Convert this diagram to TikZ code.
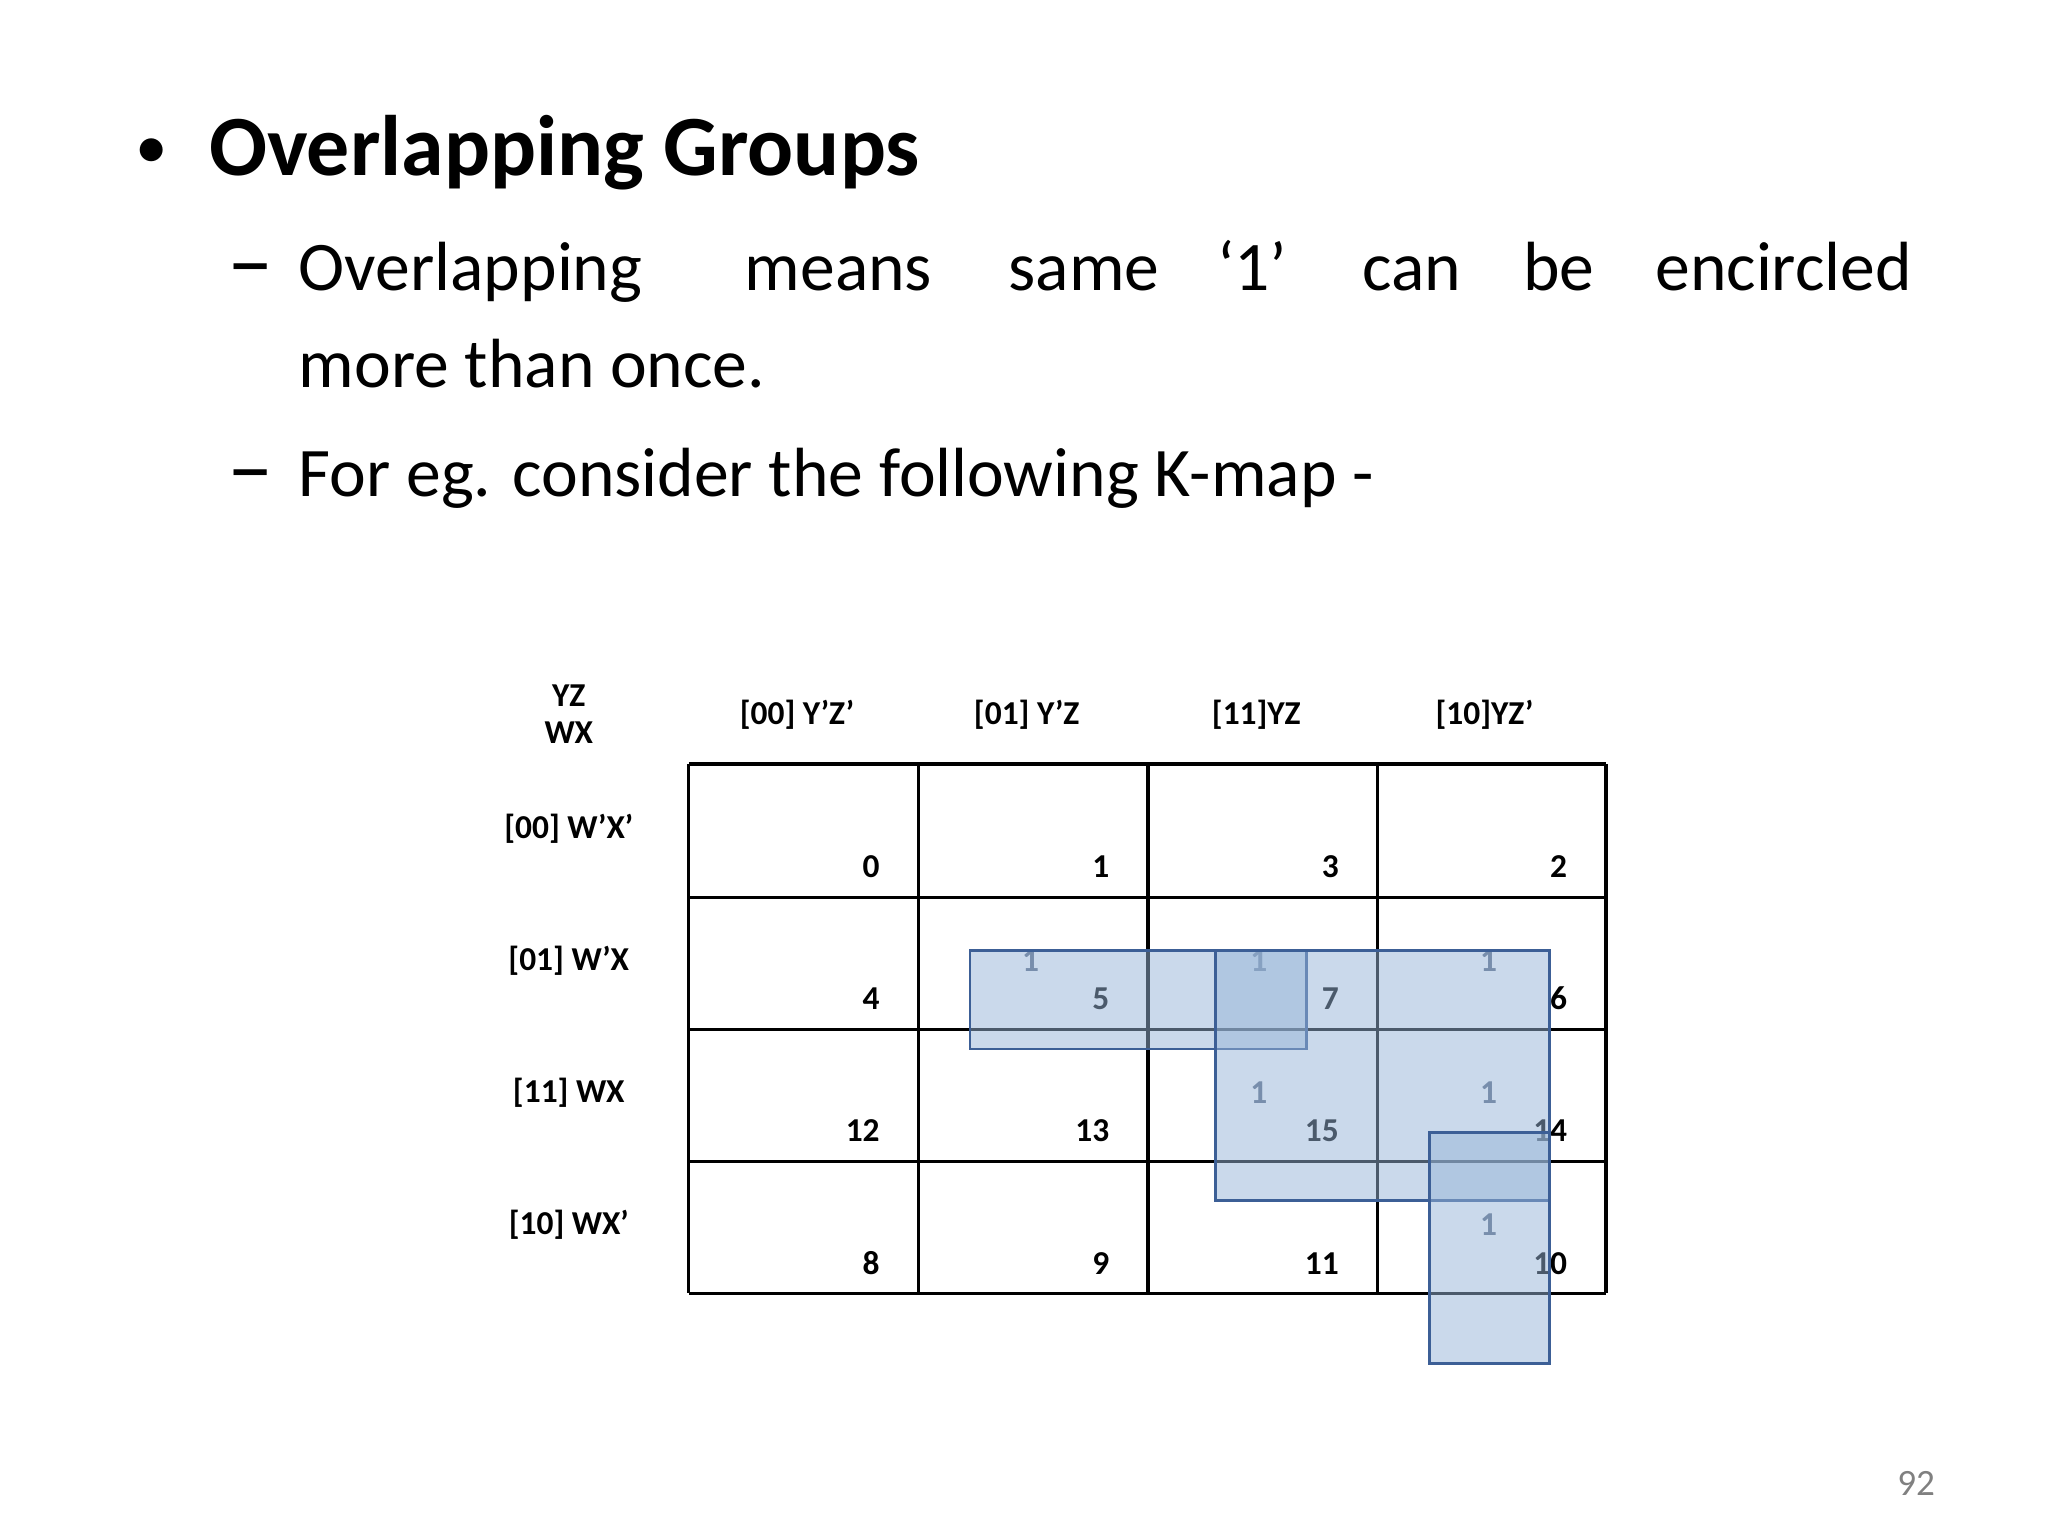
\documentclass[tikz,border=0pt]{standalone}
\usepackage{fontspec}
\setmainfont{Carlito}
\definecolor{gfill}{RGB}{150,180,215}
\definecolor{gline}{RGB}{60,95,150}
\definecolor{onec}{RGB}{90,105,130}
\begin{document}
\begin{tikzpicture}[x=0.01cm,y=-0.01cm,
  hdr/.style={font=\bfseries\fontsize{7.2}{8}\selectfont},
  num/.style={font=\bfseries\fontsize{7.2}{8}\selectfont,anchor=base east},
  one/.style={font=\bfseries\fontsize{7.2}{8}\selectfont,text=onec},
  body/.style={font=\fontsize{15}{18}\selectfont,anchor=base west},
  grp/.style={draw=gline,fill=gfill,fill opacity=0.5,line width=0.6pt}]
\useasboundingbox (0,0) rectangle (1552,1164);
\node[font=\fontsize{14}{16}\selectfont,anchor=base west] (b) at (90,128) {\textbullet};
\node[font=\bfseries\fontsize{18.5}{22}\selectfont,anchor=base west] (t) at (146,133) {Overlapping Groups};
\node[body,font=\fontsize{20}{22}\selectfont] (d1) at (160,222) {–};
\node[body] (w1) at (214,220) {Overlapping};
\node[body] (w2) at (552,220) {means};
\node[body] (w3) at (752,220) {same};
\node[body] (w4) at (910,220) {‘1’};
\node[body] (w5) at (1020,220) {can};
\node[body] (w6) at (1142,220) {be};
\node[body] (w7) at (1242,220) {encircled};
\node[body] (l2) at (214,294) {more than once.};
\node[body,font=\fontsize{20}{22}\selectfont] (d2) at (160,378) {–};
\node[body] (l3) at (214,376) {For eg. consider the following K-map -};
\node[font=\fontsize{8}{9}\selectfont,text=gray] (pg) at (1452,1124) {92};
\node[hdr,align=center] (c) at (431,541) {YZ\\WX};
\node[hdr] (h0) at (604,542) {[00] Y’Z’};
\node[hdr] (h1) at (778,542) {[01] Y’Z};
\node[hdr] (h2) at (952,542) {[11]YZ};
\node[hdr] (h3) at (1125,542) {[10]YZ’};
\node[hdr] (r0) at (431,628) {[00] W’X’};
\node[hdr] (r1) at (431,728) {[01] W’X};
\node[hdr] (r2) at (431,828) {[11] WX};
\node[hdr] (r3) at (431,928) {[10] WX’};
\foreach \x in {522,696,870,1044,1217} \draw[line width=0.7pt] (\x,579) -- (\x,980);
\foreach \y in {579,680,780,880,980} \draw[line width=0.7pt] (522,\y) -- (1217,\y);
\foreach \x/\y/\n in {679/665/0,853/665/1,1027/665/3,1200/665/2,
  679/765/4,853/765/5,1027/765/7,1200/765/6,
  679/865/12,853/865/13,1027/865/15,1200/865/14,
  679/966/8,853/966/9,1027/966/11,1200/966/10}
  \node[num] at (\x,\y) {\n};
\foreach \x/\y in {781/728,954/728,1128/728,954/828,1128/828,1128/928}
  \node[one] at (\x,\y) {1};
\draw[grp] (735,720) rectangle (990,795);
\draw[grp] (921,720) rectangle (1174,910);
\draw[grp] (1083,858) rectangle (1174,1033);
\end{tikzpicture}
\end{document}
